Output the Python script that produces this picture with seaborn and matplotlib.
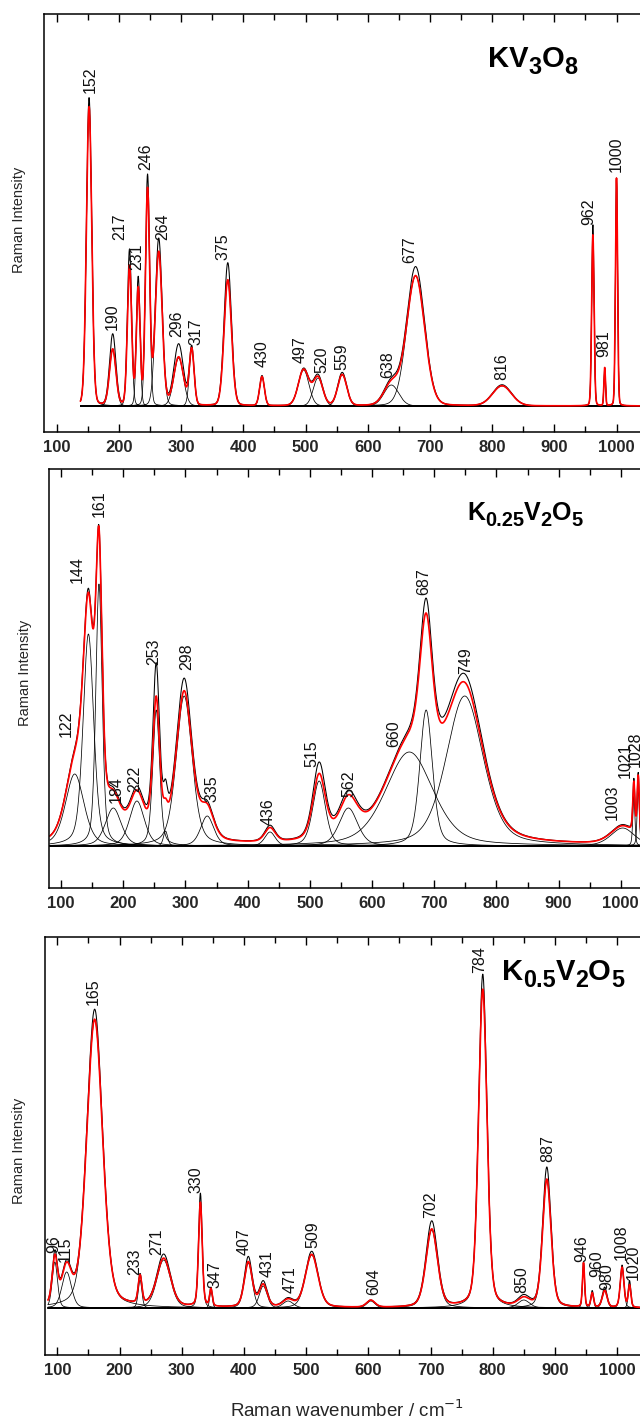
import numpy as np
import pandas as pd
import matplotlib
matplotlib.use("Agg")
import matplotlib.pyplot as plt
import seaborn as sns

# ---------------- data ----------------
# Panel 1 : KV3O8  (band centre, fitted height, observed height, FWHM)
kv_pos = [152, 190, 217, 231, 246, 264, 296, 317, 375, 430, 497, 520, 559, 638, 677, 816, 962, 981, 1000]
kv_fit = [299, 56, 139, 116, 215, 153, 48, 56, 126, 29, 36, 28, 31, 21, 130, 20, 171, 38, 228]
kv_obs = [308, 71, 155, 126, 228, 166, 61, 58, 143, 30, 37, 30, 33, 23, 139, 21, 181, 38, 228]
kv_fwhm = [10, 12, 8, 7, 8, 13, 18, 9, 14, 9, 20, 18, 17, 28, 34, 36, 4.5, 3, 4]
kv_labels = ["152", "190", "217", "231", "246", "264", "296", "317", "375", "430", "497",
             "520", "559", "638", "677", "816", "962", "981", "1000"]
kv_lab_x = [153.5, 190, 201.8, 228.5, 243.6, 271, 292.9, 324, 367.9, 429.6, 491, 526,
            558.3, 631.5, 668, 815, 954.6, 980, 999]
kv_lab_y = [312.7, 76, 166, 136, 236, 166, 69, 61, 146, 39, 43, 33, 36, 28, 143, 26, 181, 49, 234]

# Panel 2 : K0.25V2O5
k25_pos = [122, 144, 161, 184, 222, 253, 268, 298, 335, 436, 515, 562, 660, 687, 749, 1003, 1021, 1028]
k25_fit = [72, 212, 262, 38, 45, 136, 15, 150, 30, 14, 65, 38, 94, 136, 150, 18, 50, 60]
k25_obs = [74, 215, 262, 40, 48, 168, 30, 162, 32, 16, 76, 42, 96, 148, 158, 19, 52, 62]
k25_fwhm = [35, 20, 12, 30, 28, 13, 8, 30, 25, 20, 24, 35, 90, 24, 70, 45, 4, 4]
k25_labels = ["122", "144", "161", "184", "222", "253", "298", "335", "436", "515", "562",
              "660", "687", "749", "1003", "1021", "1028"]
k25_lab_x = [108, 126.8, 161.6, 188.4, 219, 248.4, 302, 342.3, 433.3, 503, 562, 634.3,
             682.5, 751, 985.8, 1006.8, 1023]
k25_lab_y = [109, 263, 329, 43, 54, 181, 176, 44, 21, 79, 49, 99, 251, 172, 26, 68, 79]

# Panel 3 : K0.5V2O5
k5_pos = [96, 115, 160, 233, 271, 330, 347, 407, 431, 471, 509, 604, 702, 784, 850, 887, 946, 960, 980, 1008, 1020]
k5_fit = [46, 36, 288, 28, 48, 104, 17, 45, 22, 7, 53, 7, 78, 318, 8, 128, 44, 14, 17, 40, 22]
k5_obs = [50, 38, 298, 29, 52, 113, 18, 50, 25, 8, 56, 7, 86, 333, 10, 140, 45, 16, 20, 42, 26]
k5_fwhm = [10, 18, 30, 7, 26, 7, 5, 15, 15, 20, 24, 16, 22, 16, 22, 16, 4, 5, 9, 7, 5]
k5_labels = ["96", "115", "165", "233", "271", "330", "347", "407", "431", "471", "509",
             "604", "702", "784", "850", "887", "946", "960", "980", "1008", "1020"]
k5_lab_x = [93.6, 112.4, 158, 225, 259.8, 323, 353.5, 400, 436.7, 474, 510.6, 608, 700.5,
            779.6, 846.6, 887.8, 943, 967, 983, 1007.4, 1026]
k5_lab_y = [55, 46, 303, 33, 53, 115, 20, 53, 31, 15, 60, 13, 90, 335, 15, 146, 46, 31, 18, 48, 28]

xticks = [100, 200, 300, 400, 500, 600, 700, 800, 900, 1000]

# ---------------- style ----------------
sns.set_theme(style="ticks")
plt.rcParams["font.family"] = ["Liberation Sans", "DejaVu Sans"]

W, H = 640, 1423
fig = plt.figure(figsize=(W / 100, H / 100), dpi=100)


def band(x, c, h, w, eta):
    d = (x - c) / w
    lor = 1.0 / (1.0 + 4.0 * d ** 2)
    gau = np.exp(-4.0 * np.log(2) * d ** 2)
    return h * (eta * lor + (1 - eta) * gau)


def panel(rect, x0, pos, fit, obs, fwhm, eta, ylim, labels, lab_x, lab_y):
    ax = fig.add_axes(rect)
    x = np.linspace(x0, 1100, 5000)
    comps = []
    for i, (c, h, w) in enumerate(zip(pos, fit, fwhm)):
        comps.append(pd.DataFrame({"x": x, "y": band(x, c, h, w, eta), "comp": i}))
    comp_df = pd.concat(comps, ignore_index=True)
    fit_y = sum(band(x, c, h, w, eta) for c, h, w in zip(pos, fit, fwhm))
    obs_y = sum(band(x, c, h, w, eta) for c, h, w in zip(pos, obs, fwhm))

    sns.lineplot(data=comp_df, x="x", y="y", units="comp", estimator=None,
                 color="black", lw=0.55, ax=ax, legend=False)
    sns.lineplot(x=x, y=obs_y, color="black", lw=0.75, ax=ax)
    sns.lineplot(x=x, y=fit_y, color="#ff0000", lw=1.2, ax=ax)

    for t, lx, ly in zip(labels, lab_x, lab_y):
        ax.text(lx, ly, t, rotation=90, ha="center", va="bottom", fontsize=11.5,
                color="#111111")

    ax.set_xlim(80, 1100)
    ax.set_ylim(*ylim)
    ax.set_xticks(xticks)
    ax.set_xticks(np.arange(150, 1100, 100), minor=True)
    ax.set_yticks([])
    ax.tick_params(axis="x", which="both", direction="in", top=True, bottom=True,
                   labelsize=12, pad=6, width=1.0, color="black")
    ax.tick_params(axis="x", which="major", length=6)
    ax.tick_params(axis="x", which="minor", length=4)
    for lab in ax.get_xticklabels():
        lab.set_fontweight("bold")
    for s in ax.spines.values():
        s.set_linewidth(1.1)
        s.set_color("black")
    ax.set_xlabel("")
    ax.set_ylabel("Raman Intensity", fontsize=10.5)
    return ax


aw = 634.4 / W
ax1 = panel([44.3 / W, 1 - 432 / H, aw, 418 / H], 138, kv_pos, kv_fit, kv_obs, kv_fwhm, 0.1,
            (-26, 392), kv_labels, kv_lab_x, kv_lab_y)
ax2 = panel([48.6 / W, 1 - 888 / H, aw, 419 / H], 82, k25_pos, k25_fit, k25_obs, k25_fwhm, 0.4,
            (-42, 377), k25_labels, k25_lab_x, k25_lab_y)
ax3 = panel([44.9 / W, 1 - 1355 / H, aw, 418 / H], 85, k5_pos, k5_fit, k5_obs, k5_fwhm, 0.3,
            (-47, 371), k5_labels, k5_lab_x, k5_lab_y)

for ax, xc, yc in [(ax1, 26, 220), (ax2, 32, 673), (ax3, 26, 1151)]:
    ax.yaxis.set_label_coords(xc / W, 1 - yc / H, transform=fig.transFigure)

ax3.set_xlabel("Raman wavenumber / cm$^{-1}$", fontsize=13.5)
ax3.xaxis.set_label_coords(347 / W, 1 - 1410 / H, transform=fig.transFigure)
ax3.xaxis.label.set_verticalalignment("center")

# ---------------- compound names with large subscripts ----------------
renderer = fig.canvas.get_renderer()


def chem(x_px, base_px, parts, size):
    x = x_px
    em = size * 100 / 72
    for s, sub in parts:
        fs = size * 0.8 if sub else size
        y = base_px + (0.25 * em if sub else 0)
        t = fig.text(x / W, 1 - y / H, s, fontsize=fs, fontweight="bold",
                     ha="left", va="baseline", color="black")
        x += t.get_window_extent(renderer).width


chem(488, 67, [("KV", False), ("3", True), ("O", False), ("8", True)], 21)
chem(467, 520, [("K", False), ("0.25", True), ("V", False), ("2", True), ("O", False), ("5", True)], 18)
chem(502, 980, [("K", False), ("0.5", True), ("V", False), ("2", True), ("O", False), ("5", True)], 21)

fig.savefig("out.png", dpi=100)
